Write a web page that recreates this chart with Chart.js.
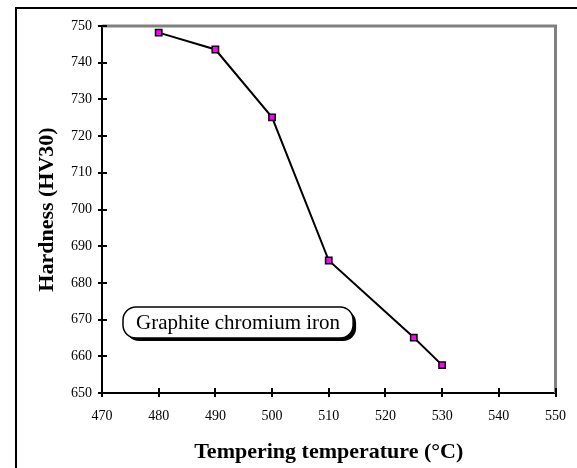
<!DOCTYPE html>
<html>
<head>
<meta charset="utf-8">
<script src="https://cdn.jsdelivr.net/npm/chart.js@4/dist/chart.umd.min.js"></script>
<style>
  body { margin: 0; background: #fff; }
  #wrap { width: 577px; height: 468px; position: relative; }
</style>
</head>
<body>
<div id="wrap"><canvas id="hardnessChart"></canvas></div>
<script>
// data
const temperatures = [480, 490, 500, 510, 525, 530];
const hardness = [748.2, 743.6, 725.1, 686.1, 665.1, 657.6];
const xTicks = [470, 480, 490, 500, 510, 520, 530, 540, 550];
const yTicks = [650, 660, 670, 680, 690, 700, 710, 720, 730, 740, 750];
const seriesLabel = "Graphite chromium iron";
const labelAt = { x: 494, y: 669.2 };

const serif = "'Liberation Serif', 'Times New Roman', serif";

//------------frame, inner ticks, gray border, label box-----------
const decorations = {
    id: "decorations",
    beforeDatasetsDraw(chart) {
        const ctx = chart.ctx;
        const { left, right, top, bottom } = chart.chartArea;
        const xs = chart.scales.x;
        const ys = chart.scales.y;
        ctx.save();
        // outer frame, cut off on right and bottom
        ctx.strokeStyle = "#000";
        ctx.lineWidth = 2;
        ctx.strokeRect(16, 8, 800, 800);
        // gray top + right border of plot
        ctx.strokeStyle = "#808080";
        ctx.lineWidth = 3;
        ctx.beginPath();
        ctx.moveTo(left, top);
        ctx.lineTo(right, top);
        ctx.lineTo(right, bottom);
        ctx.stroke();
        // tick marks poking into the plot
        ctx.strokeStyle = "#000";
        ctx.lineWidth = 2;
        ctx.beginPath();
        xTicks.forEach(v => {
            const px = Math.round(xs.getPixelForValue(v));
            ctx.moveTo(px, bottom);
            ctx.lineTo(px, bottom - 5);
        });
        yTicks.forEach(v => {
            const py = Math.round(ys.getPixelForValue(v));
            ctx.moveTo(left, py);
            ctx.lineTo(left + 5, py);
        });
        ctx.stroke();
        ctx.restore();
    },
    afterDraw(chart) {
        const ctx = chart.ctx;
        const cx = chart.scales.x.getPixelForValue(labelAt.x);
        const cy = chart.scales.y.getPixelForValue(labelAt.y);
        ctx.save();
        ctx.font = "21px " + serif;
        const w = ctx.measureText(seriesLabel).width + 26;
        const h = 31;
        const bx = cx - w / 2, by = cy - h / 2;
        // shadow
        ctx.fillStyle = "#000";
        ctx.beginPath();
        ctx.roundRect(bx + 3, by + 3, w, h, 13);
        ctx.fill();
        ctx.fillStyle = "#fff";
        ctx.strokeStyle = "#000";
        ctx.lineWidth = 1.5;
        ctx.beginPath();
        ctx.roundRect(bx, by, w, h, 13);
        ctx.fill();
        ctx.stroke();
        ctx.fillStyle = "#000";
        ctx.textAlign = "center";
        ctx.textBaseline = "middle";
        ctx.fillText(seriesLabel, cx, cy + 1);
        ctx.restore();
    }
};

const hardnessChart = new Chart(document.getElementById("hardnessChart"), {
    type: "line",
    data: {
        datasets: [{
            label: seriesLabel,
            data: temperatures.map((t, i) => ({ x: t, y: hardness[i] })),
            borderColor: "#000",
            borderWidth: 2,
            tension: 0,
            pointStyle: "rect",
            pointRadius: 4.5,
            pointBackgroundColor: "#ff00ff",
            pointBorderColor: "#000",
            pointBorderWidth: 1.5,
            clip: false
        }]
    },
    options: {
        responsive: true,
        maintainAspectRatio: false,
        animation: false,
        layout: { padding: { left: 16, top: 26, right: 15, bottom: 0 } },
        plugins: { legend: { display: false }, tooltip: { enabled: false } },
        scales: {
            x: {
                type: "linear",
                min: 470,
                max: 550,
                afterBuildTicks: s => { s.ticks = xTicks.map(v => ({ value: v })); },
                afterFit: s => { s.height = 75; },
                ticks: { color: "#000", padding: 11, font: { family: serif, size: 14 }, maxRotation: 0 },
                grid: { drawOnChartArea: false, tickLength: 4, color: "#000", lineWidth: 2 },
                border: { color: "#000", width: 2 },
                title: {
                    display: true,
                    text: "Tempering temperature (°C)",
                    color: "#000",
                    font: { family: serif, size: 22, weight: "bold" },
                    padding: { top: 0, bottom: 2 }
                }
            },
            y: {
                min: 650,
                max: 750,
                afterBuildTicks: s => { s.ticks = yTicks.map(v => ({ value: v })); },
                afterFit: s => { s.width = 86; },
                ticks: { color: "#000", padding: 6, font: { family: serif, size: 14 } },
                grid: { drawOnChartArea: false, tickLength: 4, color: "#000", lineWidth: 2 },
                border: { color: "#000", width: 2 },
                title: {
                    display: true,
                    text: "Hardness (HV30)",
                    color: "#000",
                    font: { family: serif, size: 22, weight: "bold" },
                    padding: { top: 18, bottom: 0 }
                }
            }
        }
    },
    plugins: [decorations]
});
</script>
</body>
</html>
